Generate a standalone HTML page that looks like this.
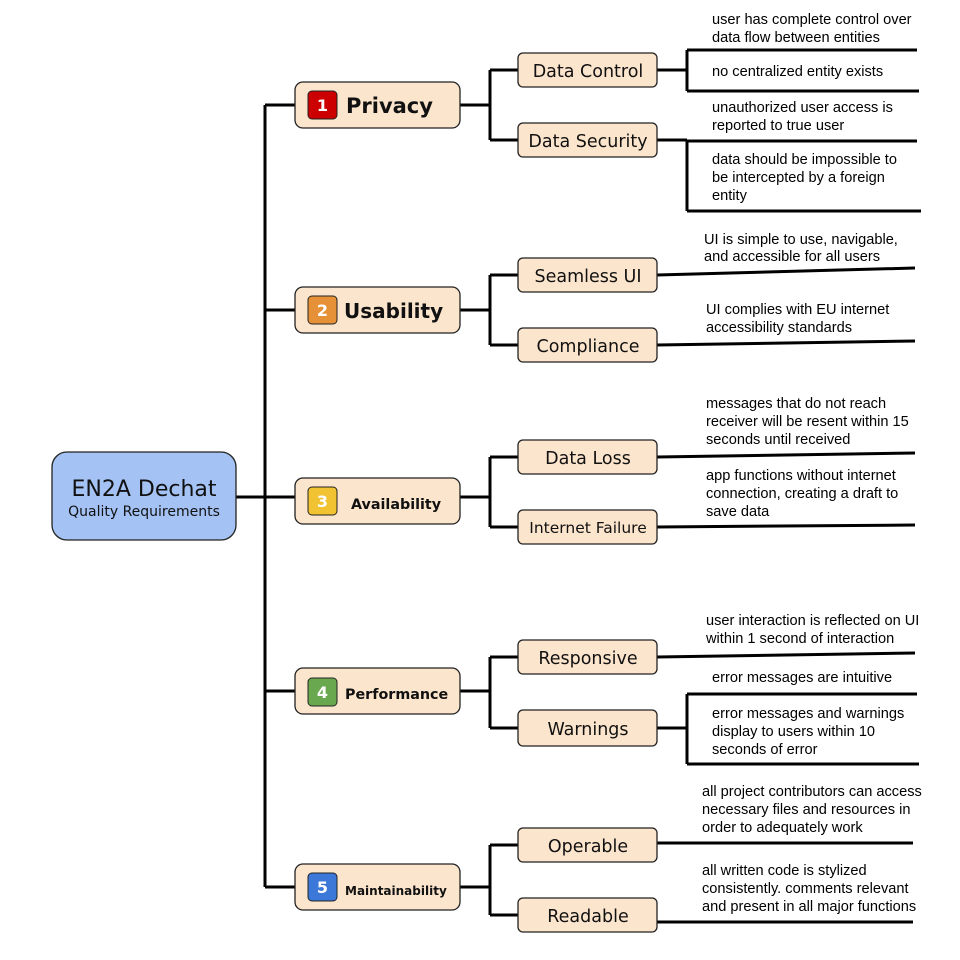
<!DOCTYPE html>
<html><head><meta charset="utf-8"><style>
html,body{margin:0;padding:0;background:#fff;}
svg{display:block;}
.s{font-family:"DejaVu Sans","Liberation Sans",sans-serif;}
.a{font-family:"Liberation Sans",Arial,sans-serif;font-size:14.6px;fill:#000;}
.l2{font-size:17.5px;fill:#111;text-anchor:middle;}
.b{fill:#fce5cd;stroke:#222;stroke-width:1.3;}
.k{stroke:#000;stroke-width:3;fill:none;}
</style></head><body>
<svg width="960" height="960" viewBox="0 0 960 960" xmlns="http://www.w3.org/2000/svg">
<g class="k">
<path d="M265 105 V887 M236 497 H295"/>
<path d="M265 105 H295 M265 310 H295 M265 691 H295 M265 887 H295"/>
<path d="M460 105 H490 M490 70 V140 M490 70 H518 M490 140 H518"/>
<path d="M460 310 H490 M490 275 V345 M490 275 H518 M490 345 H518"/>
<path d="M460 497 H490 M490 457 V527 M490 457 H518 M490 527 H518"/>
<path d="M460 691 H490 M490 657 V728 M490 657 H518 M490 728 H518"/>
<path d="M460 887 H490 M490 845 V915 M490 845 H518 M490 915 H518"/>
<path d="M657 70 H687 M687 50 V91 M687 50 H917 M687 91 H919"/>
<path d="M657 140 H687 M687 141 V211 M687 141 H917 M687 211 H921"/>
<path d="M657 275 L915 268"/>
<path d="M657 345 L915 341"/>
<path d="M657 457 L915 453"/>
<path d="M657 527 L915 525"/>
<path d="M657 657 L915 653"/>
<path d="M657 728 H687 M687 694 V764 M687 694 H917 M687 764 H919"/>
<path d="M657 843 H913"/>
<path d="M657 922 H913"/>
</g>
<rect x="52" y="452" width="184" height="88" rx="15" fill="#a4c2f4" stroke="#222" stroke-width="1.3"/>
<text class="s" x="144" y="496" text-anchor="middle" font-size="22" fill="#111">EN2A Dechat</text>
<text class="s" x="144" y="516" text-anchor="middle" font-size="14" fill="#111">Quality Requirements</text>
<rect class="b" x="295" y="82" width="165" height="46" rx="8"/>
<rect class="b" x="295" y="287" width="165" height="46" rx="8"/>
<rect class="b" x="295" y="478" width="165" height="46" rx="8"/>
<rect class="b" x="295" y="668" width="165" height="46" rx="8"/>
<rect class="b" x="295" y="864" width="165" height="46" rx="8"/>
<g stroke="#222" stroke-width="1">
<rect x="308" y="91" width="29" height="28" rx="4" fill="#cc0000"/>
<rect x="308" y="296" width="29" height="28" rx="4" fill="#e69138"/>
<rect x="308" y="487" width="29" height="28" rx="4" fill="#f1c232"/>
<rect x="308" y="678" width="29" height="28" rx="4" fill="#6aa84f"/>
<rect x="308" y="873" width="29" height="28" rx="4" fill="#3c78d8"/>
</g>
<g class="s" fill="#fff" font-weight="bold" font-size="16" text-anchor="middle">
<text x="322.5" y="111">1</text><text x="322.5" y="316">2</text><text x="322.5" y="507">3</text><text x="322.5" y="698">4</text><text x="322.5" y="893">5</text>
</g>
<g class="s" font-weight="bold" fill="#111">
<text x="346" y="113" font-size="21">Privacy</text>
<text x="344" y="318" font-size="20">Usability</text>
<text x="351" y="509" font-size="14.3">Availability</text>
<text x="345" y="699" font-size="14.3">Performance</text>
<text x="345" y="895" font-size="12">Maintainability</text>
</g>
<g>
<rect class="b" x="518" y="53" width="139" height="34" rx="5"/>
<rect class="b" x="518" y="123" width="139" height="34" rx="5"/>
<rect class="b" x="518" y="258" width="139" height="34" rx="5"/>
<rect class="b" x="518" y="328" width="139" height="34" rx="5"/>
<rect class="b" x="518" y="440" width="139" height="34" rx="5"/>
<rect class="b" x="518" y="510" width="139" height="34" rx="5"/>
<rect class="b" x="518" y="640" width="139" height="34" rx="5"/>
<rect class="b" x="518" y="710" width="139" height="36" rx="5"/>
<rect class="b" x="518" y="828" width="139" height="34" rx="5"/>
<rect class="b" x="518" y="898" width="139" height="34" rx="5"/>
</g>
<g class="s l2">
<text x="588" y="77">Data Control</text>
<text x="588" y="147">Data Security</text>
<text x="588" y="282">Seamless UI</text>
<text x="588" y="352">Compliance</text>
<text x="588" y="464">Data Loss</text>
<text x="588" y="533" font-size="15.5">Internet Failure</text>
<text x="588" y="664">Responsive</text>
<text x="588" y="735">Warnings</text>
<text x="588" y="852">Operable</text>
<text x="588" y="922">Readable</text>
</g>
<g class="a">
<text x="712" y="24">user has complete control over</text>
<text x="712" y="42">data flow between entities</text>
<text x="712" y="76">no centralized entity exists</text>
<text x="712" y="112">unauthorized user access is</text>
<text x="712" y="130">reported to true user</text>
<text x="712" y="164">data should be impossible to</text>
<text x="712" y="182">be intercepted by a foreign</text>
<text x="712" y="200">entity</text>
<text x="704" y="244">UI is simple to use, navigable,</text>
<text x="704" y="261">and accessible for all users</text>
<text x="706" y="314">UI complies with EU internet</text>
<text x="706" y="332">accessibility standards</text>
<text x="706" y="408">messages that do not reach</text>
<text x="706" y="426">receiver will be resent within 15</text>
<text x="706" y="444">seconds until received</text>
<text x="706" y="480">app functions without internet</text>
<text x="706" y="498">connection, creating a draft to</text>
<text x="706" y="516">save data</text>
<text x="706" y="625">user interaction is reflected on UI</text>
<text x="706" y="643">within 1 second of interaction</text>
<text x="712" y="682">error messages are intuitive</text>
<text x="712" y="718">error messages and warnings</text>
<text x="712" y="736">display to users within 10</text>
<text x="712" y="754">seconds of error</text>
<text x="702" y="796">all project contributors can access</text>
<text x="702" y="814">necessary files and resources in</text>
<text x="702" y="832">order to adequately work</text>
<text x="702" y="875">all written code is stylized</text>
<text x="702" y="893">consistently. comments relevant</text>
<text x="702" y="911">and present in all major functions</text>
</g>
</svg>
</body></html>
